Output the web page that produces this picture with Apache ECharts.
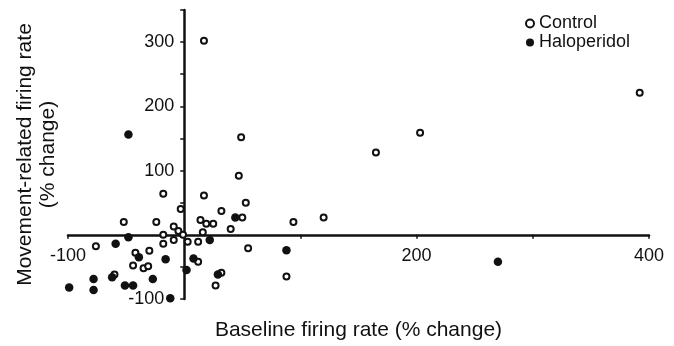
<!DOCTYPE html>
<html>
<head>
<meta charset="utf-8">
<script src="https://cdn.jsdelivr.net/npm/echarts@6/dist/echarts.min.js"></script>
<style>
html,body{margin:0;padding:0;background:#fff;}
#chart{width:674px;height:346px;}
</style>
</head>
<body>
<div id="chart"></div>
<script>
// Control (open circles): [baseline % change, movement-related % change]
const controlPoints = [
  [-18, 64], [-3, 40], [-52, 20], [-24, 20], [-9, 13], [-5, 6], [-18, 0], [-1, 0],
  [-9, -8], [-18, -14], [3, -11], [-76, -18], [-42, -28], [-30, -25], [-44, -48],
  [-35, -52], [-31, -49], [-60, -62], [17, 302], [49, 152], [47, 92], [17, 61],
  [53, 50], [32, 37], [14, 23], [19, 17], [25, 17], [16, 4], [40, 9], [50, 27],
  [94, 20], [55, -21], [12, -11], [12, -42], [32, -59], [27, -79], [88, -65],
  [120, 27], [165, 128], [203, 159], [392, 221]
];
// Haloperidol (filled circles)
const haloperidolPoints = [
  [-48, -4], [-59, -14], [-39, -35], [-16, -38], [-62, -66], [-78, -69], [-78, -86],
  [-27, -69], [-51, -79], [-44, -79], [-99, -82], [-12, -99], [2, -55], [22, -8],
  [8, -37], [29, -62], [88, -24], [44, 27], [-48, 156], [270, -42]
];
const xLabelsShown = [-100, 200, 400];
const yLabelsShown = [300, 200, 100, -100];
const seriesNames = ['Control', 'Haloperidol'];

const X_MIN = -100, X_MAX = 400, Y_MIN = -100, Y_MAX = 350;
const G = {left: 68, right: 25, top: 10, bottom: 47};
const W = 674, H = 346;
// place axes through the origin using offsets (computed from the scale range)
const plotW = W - G.left - G.right, plotH = H - G.top - G.bottom;
const yAxisOffset = -plotW * (0 - X_MIN) / (X_MAX - X_MIN);
const xAxisOffset = -plotH * (0 - Y_MIN) / (Y_MAX - Y_MIN);

const FONT = '"Liberation Sans", Arial, Helvetica, sans-serif';
const chart = echarts.init(document.getElementById('chart'), null, {renderer: 'canvas'});
chart.setOption({
  animation: false,
  backgroundColor: '#fff',
  textStyle: {fontFamily: FONT, color: '#111'},
  grid: Object.assign({containLabel: false, outerBoundsMode: 'none'}, G),
  legend: {
    orient: 'vertical', left: 520, top: 9, itemWidth: 8, itemHeight: 8, itemGap: 0,
    textStyle: {fontSize: 18, fontFamily: FONT, color: '#111', lineHeight: 19},
    data: [
      {name: seriesNames[0], icon: 'circle', itemStyle: {color: '#fff', borderColor: '#111', borderWidth: 2}},
      {name: seriesNames[1], icon: 'circle', itemStyle: {color: '#111', borderWidth: 0}}
    ]
  },
  xAxis: {
    type: 'value', min: X_MIN, max: X_MAX, interval: 100, position: 'bottom', offset: xAxisOffset,
    name: 'Baseline firing rate (% change)', nameLocation: 'middle', nameGap: 85,
    nameTextStyle: {fontSize: 21, fontFamily: FONT, color: '#111'},
    axisLine: {onZero: false, lineStyle: {color: '#111', width: 2.5}},
    axisTick: {show: true, length: 4, lineStyle: {color: '#111', width: 1.5}},
    axisLabel: {
      fontSize: 18, fontFamily: FONT, color: '#111', margin: 12,
      formatter: v => xLabelsShown.includes(v) ? String(v) : ''
    },
    splitLine: {show: false}
  },
  yAxis: {
    type: 'value', min: Y_MIN, max: Y_MAX, interval: 50, position: 'left', offset: yAxisOffset,
    name: 'Movement-related firing rate\n(% change)', nameLocation: 'middle', nameGap: 124,
    nameTextStyle: {fontSize: 21, fontFamily: FONT, color: '#111', lineHeight: 23},
    axisLine: {onZero: false, lineStyle: {color: '#111', width: 2.5}},
    axisTick: {show: true, length: 4, lineStyle: {color: '#111', width: 1.5}},
    axisLabel: {
      fontSize: 18, fontFamily: FONT, color: '#111', margin: 10,
      formatter: v => yLabelsShown.includes(v) ? (v < 0 ? '{n|' + v + '}' : String(v)) : '',
      rich: {n: {fontSize: 18, fontFamily: FONT, color: '#111', padding: [0, 10, 0, 0]}}
    },
    splitLine: {show: false}
  },
  series: [
    {
      name: seriesNames[0], type: 'scatter', data: controlPoints, symbol: 'circle', symbolSize: 6,
      clip: false,
      itemStyle: {color: '#fff', borderColor: '#111', borderWidth: 2, opacity: 1}
    },
    {
      name: seriesNames[1], type: 'scatter', data: haloperidolPoints, symbol: 'circle', symbolSize: 8.5,
      clip: false,
      itemStyle: {color: '#111', borderWidth: 0, opacity: 1}
    }
  ]
});
</script>
</body>
</html>
